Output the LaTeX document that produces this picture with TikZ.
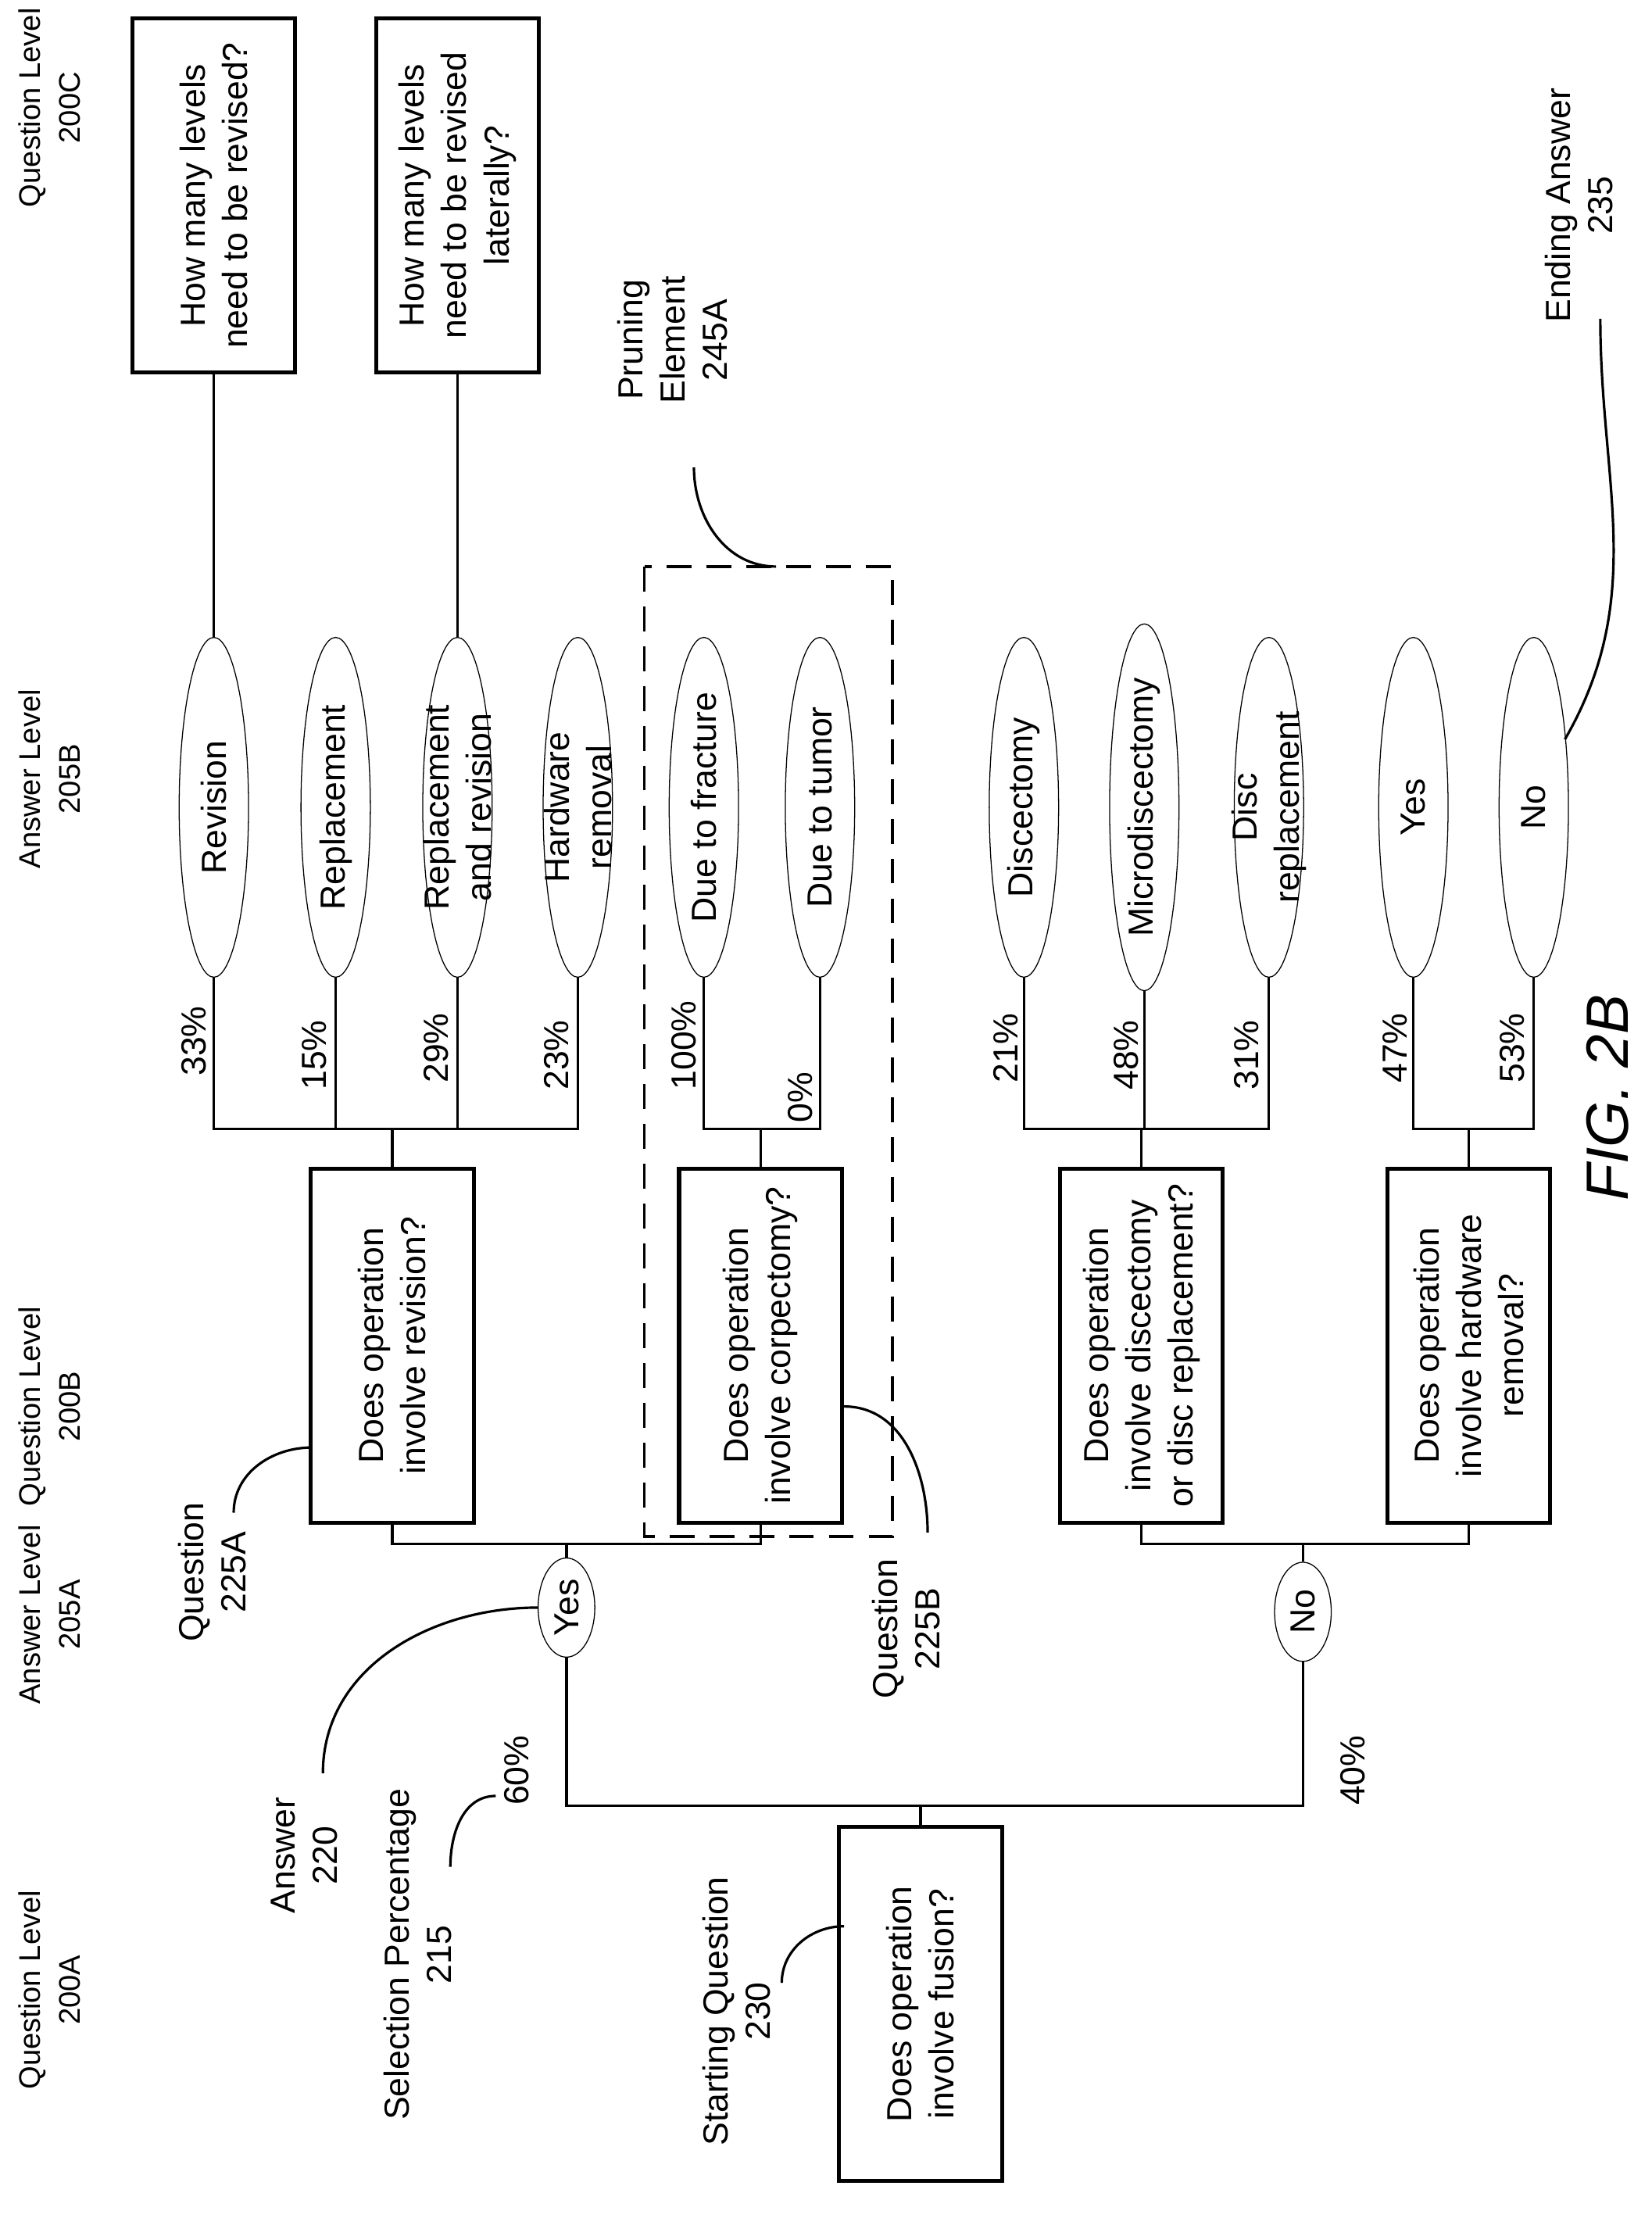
\documentclass[tikz,border=0pt]{standalone}
\usepackage{fontspec}
\setmainfont{Liberation Sans}
\usetikzlibrary{shapes.geometric}

\begin{document}
\begin{tikzpicture}
    [ x=0.02cm, y=-0.02cm
    , every node/.style={rotate=90,align=center,font=\fontsize{14}{17}\selectfont}
    , head/.style={font=\fontsize{12}{16}\selectfont,inner sep=0pt}
    , qbox/.style={draw,line width=1.6pt,minimum width=5cm,minimum height=2.3cm,inner sep=1pt}
    , ans/.style={ellipse,draw,line width=0.4pt,minimum width=4.8cm,minimum height=0.98cm,inner xsep=0pt,inner ysep=-12mm}
    , yn/.style={ellipse,draw,line width=0.4pt,minimum width=1.4cm,minimum height=0.8cm,inner sep=0pt}
    , pct/.style={inner sep=0pt}
    , line width=1pt
    ]
\useasboundingbox (0,0) rectangle (1166,1566);
% level headings
\node[head] at (35,76) {Question Level\\200C};
\node[head] at (35,550) {Answer Level\\205B};
\node[head] at (35,993) {Question Level\\200B};
\node[head] at (35,1140) {Answer Level\\205A};
\node[head] at (35,1405) {Question Level\\200A};
% questions and answers
\node[qbox] (q0) at (650,1415) {Does operation\\involve fusion?};
\node[yn] (yes) at (400,1135) {Yes};
\node[yn] (no) at (920,1138) {No};
\node[qbox] (q1) at (277,950) {Does operation\\involve revision?};
\node[qbox] (q2) at (537,950) {Does operation\\involve corpectomy?};
\node[qbox] (q3) at (806,950) {Does operation\\involve discectomy\\or disc replacement?};
\node[qbox] (q4) at (1037,950) {Does operation\\involve hardware\\removal?};
\node[ans] (a1) at (151,570) {Revision};
\node[ans] (a2) at (237,570) {Replacement};
\node[ans] (a3) at (323,570) {Replacement\\and revision};
\node[ans] (a4) at (408,570) {Hardware\\removal};
\node[ans] (a5) at (497,570) {Due to fracture};
\node[ans] (a6) at (579,570) {Due to tumor};
\node[ans] (a7) at (723,570) {Discectomy};
\node[ans] (a8) at (808,570) {Microdiscectomy};
\node[ans] (a9) at (896,570) {Disc\\replacement};
\node[ans] (a10) at (998,570) {Yes};
\node[ans] (a11) at (1083,570) {No};
\node[qbox] (t1) at (151,138) {How many levels\\need to be revised?};
\node[qbox] (t2) at (323,138) {How many levels\\need to be revised\\laterally?};
% connectors
\draw (q0.east) -- (650,1275) coordinate (b0);
\draw (b0) -| (yes.west);
\draw (b0) -| (no.west);
\draw (yes.east) -- (400,1090) coordinate (b1);
\draw (b1) -| (q1.west);
\draw (b1) -| (q2.west);
\draw (no.east) -- (920,1090) coordinate (b4);
\draw (b4) -| (q3.west);
\draw (b4) -| (q4.west);
\draw (q1.east) -- (277,797) coordinate (c1);
\foreach \a in {a1,a2,a3,a4} \draw (c1) -| (\a.west);
\draw (q2.east) -- (537,797) coordinate (c2);
\foreach \a in {a5,a6} \draw (c2) -| (\a.west);
\draw (q3.east) -- (806,797) coordinate (c3);
\foreach \a in {a7,a8,a9} \draw (c3) -| (\a.west);
\draw (q4.east) -- (1037,797) coordinate (c4);
\foreach \a in {a10,a11} \draw (c4) -| (\a.west);
\draw (a1.east) -- (t1.west);
\draw (a3.east) -- (t2.west);
% percentages
\node[pct] (p60) at (365,1250) {60\%};
\node[pct] at (955,1250) {40\%};
\node[pct] at (137,735) {33\%};
\node[pct] at (222,745) {15\%};
\node[pct] at (308,740) {29\%};
\node[pct] at (393,745) {23\%};
\node[pct] at (483,738) {100\%};
\node[pct] at (565,775) {0\%};
\node[pct] at (710,740) {21\%};
\node[pct] at (795,745) {48\%};
\node[pct] at (880,745) {31\%};
\node[pct] at (985,740) {47\%};
\node[pct] at (1068,740) {53\%};
% pruning element
\draw[dashed,line width=1.2pt,dash pattern=on 10pt off 6pt] (455,400) rectangle (630,1085);
% callouts
\node (l215) at (295,1380) {Selection Percentage\\215};
\node (l220) at (215,1310) {Answer\\220};
\node (l225a) at (150,1110) {Question\\225A};
\node (l225b) at (640,1150) {Question\\225B};
\node (l230) at (520,1420) {Starting Question\\230};
\node (l245) at (475,240) {Pruning\\Element\\245A};
\node (l235) at (1115,145) {Ending Answer\\235};
\draw (318,1318) to[out=90,in=180] (350,1268);
\draw (228,1252) to[out=90,in=180] (yes.north);
\draw (165,1068) to[out=90,in=180] (220,1022);
\draw (655,1082) to[out=90,in=0] (596,993);
\draw (552,1400) to[out=90,in=180] (596,1360);
\draw (490,330) to[out=-90,in=180] (548,400);
\draw (1130,225) to[out=-90,in=60] (1105,522);
\node[font=\fontsize{24}{28}\selectfont\itshape] at (1135,775) {FIG. 2B};
\end{tikzpicture}
\end{document}
